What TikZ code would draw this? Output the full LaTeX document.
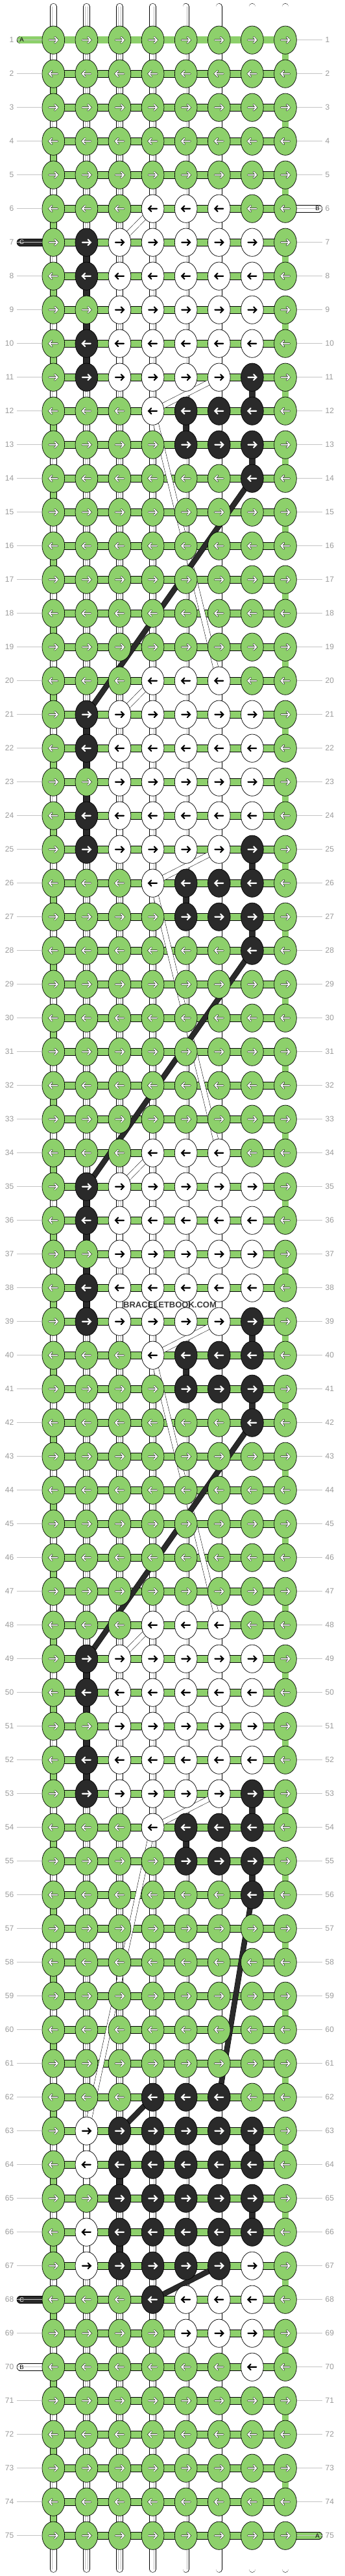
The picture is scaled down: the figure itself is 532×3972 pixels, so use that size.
\documentclass[tikz,border=0pt]{standalone}
\usepackage{fontspec}
\setmainfont{Liberation Sans}
\usepackage{xstring}
\usetikzlibrary{shapes.geometric}

\definecolor{threadA}{HTML}{8DD06B}
\definecolor{threadC}{HTML}{2A2A2A}
\definecolor{rowgrey}{HTML}{9A9A9A}
\definecolor{guidegrey}{HTML}{C4C4C4}

\pgfdeclarelayer{strands}
\pgfsetlayers{strands,main}

\tikzset{
  knot/.style={ellipse, draw=black, line width=0.7pt, minimum width=34.7pt, minimum height=43.3pt, inner sep=0pt},
  kng/.style={knot, fill=threadA},
  knw/.style={knot, fill=white},
  knk/.style={knot, fill=threadC},
  arg/.style={draw=black, line width=0.45pt, double=white, double distance=1.8pt, line cap=round},
  arw/.style={draw=black, line width=2.1pt, line cap=round},
  ark/.style={draw=white, line width=2.1pt, line cap=round},
  warp/.style={draw=black, line width=0.6pt, double=white, double distance=9.2pt, line cap=round},
  warpmid/.style={draw=black!28, line width=0.4pt, double=white, double distance=3.4pt},
  hbar/.style={draw=black, line width=0.6pt, double=threadA, double distance=10.4pt},
  vbar/.style={draw=black, line width=0.6pt, double distance=9.2pt},
  tail/.style={draw=black, line width=0.6pt, double distance=10.4pt, line cap=round},
  band/.style={draw=black, line width=0.5pt, double distance=7.5pt},
  guide/.style={draw=guidegrey, line width=0.8pt},
  rownum/.style={font=\fontsize{12}{12}\selectfont, text=rowgrey, inner sep=0pt},
  taillabel/.style={font=\fontsize{9.5}{10}\selectfont, inner sep=0pt},
  wmark/.style={font=\fontsize{13}{13}\selectfont\bfseries, text=black!78, inner sep=0pt}
}

\begin{document}
\begin{tikzpicture}[x=1pt,y=-1pt]
\useasboundingbox (0,0) rectangle (532,3972);
%knots
\foreach \r/\p in {
  1/gggggggg, 2/gggggggg, 3/gggggggg, 4/gggggggg, 5/gggggggg,
  6/gggwwwgg, 7/gkwwwwwg, 8/gkwwwwwg, 9/ggwwwwwg, 10/gkwwwwwg,
  11/gkwwwwkg, 12/gggwkkkg, 13/ggggkkkg, 14/ggggggkg, 15/gggggggg,
  16/gggggggg, 17/gggggggg, 18/gggggggg, 19/gggggggg,
  20/gggwwwgg, 21/gkwwwwwg, 22/gkwwwwwg, 23/ggwwwwwg, 24/gkwwwwwg,
  25/gkwwwwkg, 26/gggwkkkg, 27/ggggkkkg, 28/ggggggkg, 29/gggggggg,
  30/gggggggg, 31/gggggggg, 32/gggggggg, 33/gggggggg,
  34/gggwwwgg, 35/gkwwwwwg, 36/gkwwwwwg, 37/ggwwwwwg, 38/gkwwwwwg,
  39/gkwwwwkg, 40/gggwkkkg, 41/ggggkkkg, 42/ggggggkg, 43/gggggggg,
  44/gggggggg, 45/gggggggg, 46/gggggggg, 47/gggggggg,
  48/gggwwwgg, 49/gkwwwwwg, 50/gkwwwwwg, 51/ggwwwwwg, 52/gkwwwwwg,
  53/gkwwwwkg, 54/gggwkkkg, 55/ggggkkkg, 56/ggggggkg, 57/gggggggg,
  58/gggggggg, 59/gggggggg, 60/gggggggg, 61/gggggggg,
  62/gggkkkgg, 63/gwkkkkkg, 64/gwkkkkkg, 65/ggkkkkkg, 66/gwkkkkkg,
  67/gwkkkkwg, 68/gggkwwwg, 69/ggggwwwg, 70/ggggggwg, 71/gggggggg,
  72/gggggggg, 73/gggggggg, 74/gggggggg, 75/gggggggg}{
  \pgfmathtruncatemacro\dir{ifthenelse(isodd(\r),1,-1)}
  \foreach \col in {1,...,8}{
    \StrChar{\p}{\col}[\kc]
    \node[kn\kc] (k-\r-\col) at ({82.3+51.1*(\col-1)},{61.7+52*(\r-1)}) {};
    \draw[ar\kc] ([shift={(-6.5*\dir,0)}]k-\r-\col.center) -- ([shift={(6.5*\dir,0)}]k-\r-\col.center)
      ([shift={(2.2*\dir,-4.4)}]k-\r-\col.center) -- ([shift={(6.5*\dir,0)}]k-\r-\col.center)
      -- ([shift={(2.2*\dir,4.4)}]k-\r-\col.center);
  }
  %row numbers
  \node[rownum, anchor=east] (nl-\r) at (21.5,{61.7+52*(\r-1)}) {\r};
  \node[rownum, anchor=west] (nr-\r) at (501.5,{61.7+52*(\r-1)}) {\r};
  \coordinate (gl-\r) at (26,{61.7+52*(\r-1)});
  \coordinate (gr-\r) at (497,{61.7+52*(\r-1)});
  \draw[guide] (gl-\r) -- (k-\r-1);
  \draw[guide] (k-\r-8) -- (gr-\r);
}

\begin{pgfonlayer}{strands}
%warps
\foreach \col in {1,...,8}{
  \coordinate (wt-\col) at ({82.3+51.1*(\col-1)},10.2);
  \coordinate (wb-\col) at ({82.3+51.1*(\col-1)},3961.5);
  \draw[warp] (wt-\col) -- (wb-\col);
  \draw[warpmid] (wt-\col) -- (wb-\col);
}
%rows of thread A
\foreach \r in {1,...,75}
  \draw[hbar] (k-\r-1.center) -- (k-\r-8.center);
\foreach \r [evaluate=\r as \rr using int(\r+1), evaluate=\r as \cc using {int(ifthenelse(isodd(\r),8,1))}] in {1,...,74}
  \draw[vbar, double=threadA] (k-\r-\cc.center) -- (k-\rr-\cc.center);
%thread C down
\foreach \r/\col [evaluate=\r as \rr using int(\r+1)] in {7/2,8/2,9/2,10/2,11/7,12/5,13/7,
    21/2,22/2,23/2,24/2,25/7,26/5,27/7, 35/2,36/2,37/2,38/2,39/7,40/5,41/7,
    49/2,50/2,51/2,52/2,53/7,54/5,55/7, 63/7,64/3,65/7,66/3}
  \draw[vbar, double=threadC] (k-\r-\col.center) -- (k-\rr-\col.center);
%thread B down
\foreach \r/\col [evaluate=\r as \rr using int(\r+1)] in {7/7,8/3,9/7,10/3, 21/7,22/3,23/7,24/3,
    35/7,36/3,37/7,38/3, 49/7,50/3,51/7,52/3, 63/2,64/2,65/2,66/2,67/7,68/5,69/7}
  \draw[vbar, double=white] (k-\r-\col.center) -- (k-\rr-\col.center);
%ends
\coordinate (ta-1) at (31.5,61.7);
\coordinate (tb-6) at (491.5,321.7);
\coordinate (tc-7) at (31.5,373.7);
\coordinate (tc-68) at (31.5,3545.7);
\coordinate (tb-70) at (31.5,3649.7);
\coordinate (ta-75) at (491.5,3909.7);
\draw[tail, double=threadA] (ta-1) -- (k-1-1.center);
\draw[tail, double=white] (k-6-8.center) -- (tb-6);
\draw[tail, double=threadC] (tc-7) -- (k-7-1.center);
\draw[tail, double=threadC] (tc-68) -- (k-68-1.center);
\draw[tail, double=white] (tb-70) -- (k-70-1.center);
\draw[tail, double=threadA] (k-75-8.center) -- (ta-75);
%moves of thread B
\foreach \a/\b in {6-4/7-3, 11-6/12-4, 12-4/20-6, 20-4/21-3, 25-6/26-4, 26-4/34-6,
    34-4/35-3, 39-6/40-4, 40-4/48-6, 48-4/49-3, 53-6/54-4, 54-4/63-2}
  \draw[band, double=white] (k-\a.center) -- (k-\b.center);
%moves of thread C
\foreach \a/\b in {14-7/21-2, 28-7/35-2, 42-7/49-2, 56-7/62-6, 62-4/63-3, 67-6/68-4}
  \draw[band, double=threadC] (k-\a.center) -- (k-\b.center);
\end{pgfonlayer}

\node[taillabel] (la-1) at ([xshift=2pt]ta-1) {A};
\node[taillabel] (lb-6) at ([xshift=-2pt]tb-6) {B};
\node[taillabel, text=white] (lc-7) at ([xshift=2pt]tc-7) {C};
\node[taillabel, text=white] (lc-68) at ([xshift=2pt]tc-68) {C};
\node[taillabel] (lb-70) at ([xshift=2pt]tb-70) {B};
\node[taillabel] (la-75) at ([xshift=-2pt]ta-75) {A};

\node[wmark] (wm) at (262,2011.7) {BRACELETBOOK.COM};
\end{tikzpicture}
\end{document}
